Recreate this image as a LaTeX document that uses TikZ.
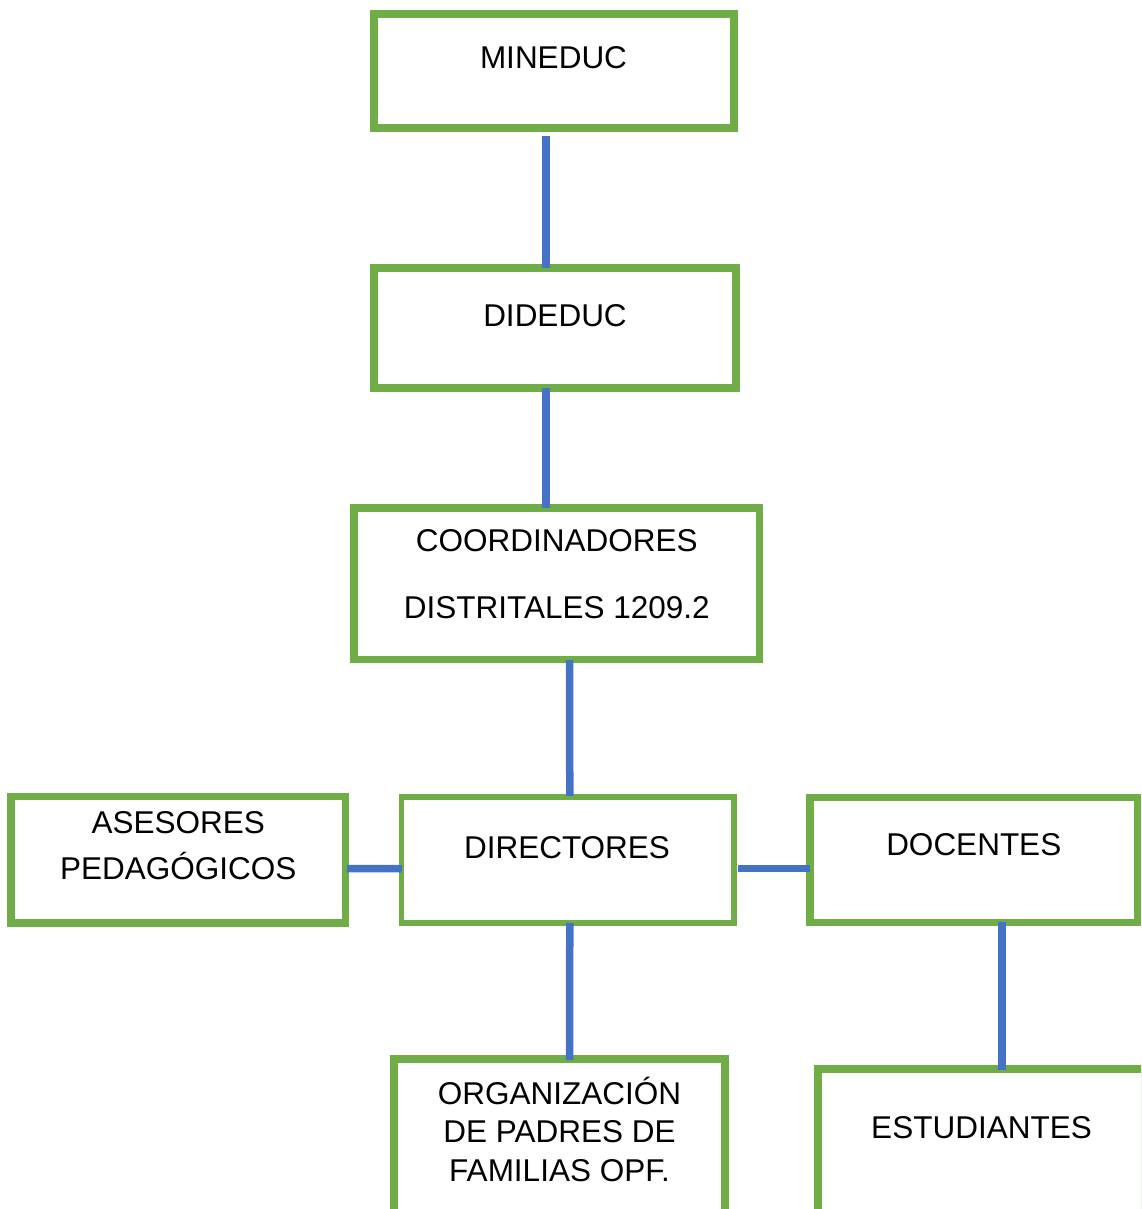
\documentclass[tikz,border=0pt]{standalone}
\usepackage{fontspec}
\setmainfont{Liberation Sans}
\usepackage{xcolor}
\usetikzlibrary{positioning,calc}
\definecolor{boxgreen}{HTML}{70AD47}
\definecolor{linkblue}{HTML}{4472C4}

\begin{document}
\begin{tikzpicture}[x=1pt,y=-1pt,
  unitbox/.style={draw=boxgreen, line width=7.5pt, fill=white, rectangle, inner sep=0pt},
  txt/.style={font=\fontsize{31.5}{38.5}\selectfont, align=center, inner sep=0pt},
  link/.style={draw=linkblue, line width=7.5pt}]
\useasboundingbox (0,0) rectangle (1141,1209);
\clip (0,0) rectangle (1141,1209);

% Boxes
\node[unitbox, minimum width=360pt, minimum height=114pt,
  label={[txt,xshift=-0.5pt,yshift=13pt]center:MINEDUC}] (mineduc) at (554,71) {};
\node[unitbox, minimum width=362pt, minimum height=120pt,
  label={[txt,yshift=12pt]center:DIDEDUC}] (dideduc) at (555,328) {};
\node[unitbox, minimum width=405.5pt, minimum height=151.5pt,
  label={[txt,font=\fontsize{31.5}{67}\selectfont,yshift=9.25pt]center:COORDINADORES\\DISTRITALES 1209.2}] (coord) at (556.75,583.75) {};
\node[unitbox, minimum width=334.5pt, minimum height=126.5pt,
  label={[txt,font=\fontsize{31.5}{46}\selectfont,yshift=13.9pt]center:ASESORES\\PEDAGÓGICOS}] (asesores) at (178.25,859.75) {};
\node[unitbox, line width=5.5pt, minimum width=332.5pt, minimum height=126pt,
  label={[txt,xshift=-0.75pt,yshift=12pt]center:DIRECTORES}] (directores) at (567.75,860) {};
\node[unitbox, minimum width=327.5pt, minimum height=125pt,
  label={[txt,yshift=15pt]center:DOCENTES}] (docentes) at (973.75,860) {};
\node[unitbox, minimum width=331pt, minimum height=181pt,
  label={[txt,yshift=20.3pt]center:ORGANIZACIÓN\\DE PADRES DE\\FAMILIAS OPF.}] (opf) at (559.5,1149.5) {};
\node[unitbox, minimum width=327pt, minimum height=171pt,
  label={[txt,yshift=26.5pt]center:ESTUDIANTES}] (estudiantes) at (981.5,1154.5) {};

% Connectors
\draw[link] ([xshift=-8pt,yshift=-4.25pt]mineduc.south) -- ([xshift=-9pt,yshift=-3.5pt]dideduc.north);
\draw[link] ([xshift=-9pt,yshift=3.7pt]dideduc.south) -- ([xshift=-10.75pt,yshift=-3.5pt]coord.north);
\draw[link] ([xshift=12.95pt,yshift=3.25pt]coord.south) -- ([xshift=2pt,yshift=-1.5pt]directores.north);
\draw[link] ([xshift=-2.25pt,yshift=-8.75pt]asesores.east) -- ([xshift=3pt,yshift=-8.75pt]directores.west);
\draw[link] ([xshift=0.75pt,yshift=-8.3pt]directores.east) -- ([xshift=3.75pt,yshift=-8.3pt]docentes.west);
\draw[link] ([xshift=2pt,yshift=3pt]directores.south) -- ([xshift=10.2pt,yshift=-4.75pt]opf.north);
\draw[link] ([xshift=28.25pt,yshift=4pt]docentes.south) -- ([xshift=20.5pt,yshift=-4.75pt]estudiantes.north);
\end{tikzpicture}
\end{document}
